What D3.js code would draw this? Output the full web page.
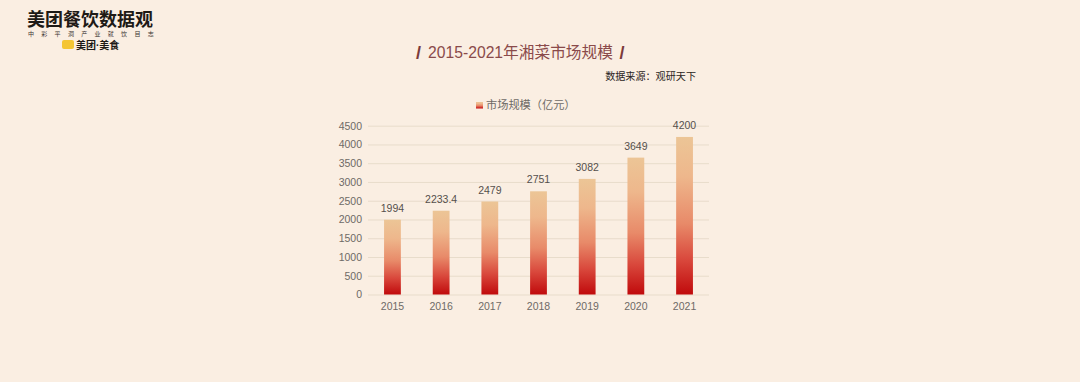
<!DOCTYPE html>
<html>
<head>
<meta charset="utf-8">
<script src="https://cdn.jsdelivr.net/npm/d3@7/dist/d3.min.js"></script>
<style>
html, body { margin: 0; padding: 0; background: #faeee2; }
svg { display: block; }
text { font-family: "Liberation Sans", "Noto Sans CJK SC", sans-serif; }
</style>
</head>
<body>
<svg id="chart" width="1080" height="382"></svg>
<script>
const years = ["2015", "2016", "2017", "2018", "2019", "2020", "2021"];
const marketSize = [1994, 2233.4, 2479, 2751, 3082, 3649, 4200];
const valueLabels = ["1994", "2233.4", "2479", "2751", "3082", "3649", "4200"];
const yTicks = [0, 500, 1000, 1500, 2000, 2500, 3000, 3500, 4000, 4500];
const chartTitle = "2015-2021年湘菜市场规模";
const sourceText = "数据来源：观研天下";
const legendText = "市场规模（亿元）";
const logoTitle = "美团餐饮数据观";
const logoSub = ["中", "彩", "平", "洞", "产", "业", "就", "饮", "目", "志"];
const logoBrand = "美团·美食";

const svg = d3.select("#chart");

const x = d3.scaleBand().domain(years).range([368, 709]).paddingInner(0.655).paddingOuter(0.33);
const y = d3.scaleLinear().domain([0, 4500]).range([294.5, 125.7]);

// bar gradient, top to bottom
const grad = svg.append("defs").append("linearGradient")
	.attr("id", "barFill").attr("x1", 0).attr("y1", 0).attr("x2", 0).attr("y2", 1);
grad.append("stop").attr("offset", "0%").attr("stop-color", "#ecc596");
grad.append("stop").attr("offset", "25%").attr("stop-color", "#eeb78c");
grad.append("stop").attr("offset", "55%").attr("stop-color", "#e88a69");
grad.append("stop").attr("offset", "78%").attr("stop-color", "#d9483c");
grad.append("stop").attr("offset", "100%").attr("stop-color", "#c00a0c");

// gridlines and y labels
const yAxis = d3.axisLeft(y).tickValues(yTicks).tickSize(-341).tickPadding(6).tickFormat(d3.format("d"));
const yG = svg.append("g").attr("transform", "translate(368,0)").call(yAxis);
yG.select(".domain").remove();
yG.selectAll("line").attr("stroke", "#e8dccb").attr("stroke-width", 1);
yG.selectAll("text").attr("fill", "#6e6a66").attr("font-size", 10.5);

// x labels
const xAxis = d3.axisBottom(x).tickSize(0).tickPadding(8);
const xG = svg.append("g").attr("transform", "translate(0,294.5)").call(xAxis);
xG.select(".domain").remove();
xG.selectAll("text").attr("fill", "#6e6a66").attr("font-size", 10.5);

// bars
svg.selectAll("rect.bar").data(marketSize).join("rect")
	.attr("class", "bar")
	.attr("x", (d, i) => x(years[i]))
	.attr("y", d => y(d))
	.attr("width", x.bandwidth())
	.attr("height", d => y(0) - y(d))
	.attr("fill", "url(#barFill)");

// value labels
svg.selectAll("text.val").data(marketSize).join("text")
	.attr("class", "val")
	.attr("x", (d, i) => x(years[i]) + x.bandwidth() / 2)
	.attr("y", d => y(d) - 8)
	.attr("text-anchor", "middle")
	.attr("fill", "#55504c")
	.attr("font-size", 10.5)
	.text((d, i) => valueLabels[i]);

// title with slashes
svg.append("text").attr("x", 520.5).attr("y", 58).attr("text-anchor", "middle")
	.attr("fill", "#8a4a4a").attr("font-size", 15.7).text(chartTitle);
svg.append("text").attr("x", 418.5).attr("y", 58.5).attr("text-anchor", "middle")
	.attr("fill", "#7a3a3a").attr("font-size", 18).attr("font-weight", "bold").text("/");
svg.append("text").attr("x", 622).attr("y", 58.5).attr("text-anchor", "middle")
	.attr("fill", "#7a3a3a").attr("font-size", 18).attr("font-weight", "bold").text("/");

svg.append("text").attr("x", 696).attr("y", 80).attr("text-anchor", "end")
	.attr("fill", "#2a2522").attr("font-size", 10.1).text(sourceText);

// legend
svg.append("rect").attr("x", 476).attr("y", 102).attr("width", 7).attr("height", 6.5).attr("fill", "url(#barFill)");
svg.append("text").attr("x", 486).attr("y", 109).attr("fill", "#6e6a66").attr("font-size", 11.2).text(legendText);

// logo
svg.append("text").attr("x", 27).attr("y", 26).attr("fill", "#1e1a16")
	.attr("font-size", 18).attr("font-weight", "bold").text(logoTitle);
svg.selectAll("text.sub").data(logoSub).join("text")
	.attr("class", "sub")
	.attr("x", (d, i) => 31 + i * 13.3)
	.attr("y", 36)
	.attr("text-anchor", "middle")
	.attr("fill", "#3a3430").attr("font-size", 6).text(d => d);
svg.append("rect").attr("x", 62).attr("y", 40).attr("width", 12).attr("height", 9).attr("rx", 2).attr("fill", "#f4c534");
svg.append("text").attr("x", 76).attr("y", 48.5).attr("fill", "#1e1a16")
	.attr("font-size", 10).attr("font-weight", "bold").text(logoBrand);
</script>
</body>
</html>
